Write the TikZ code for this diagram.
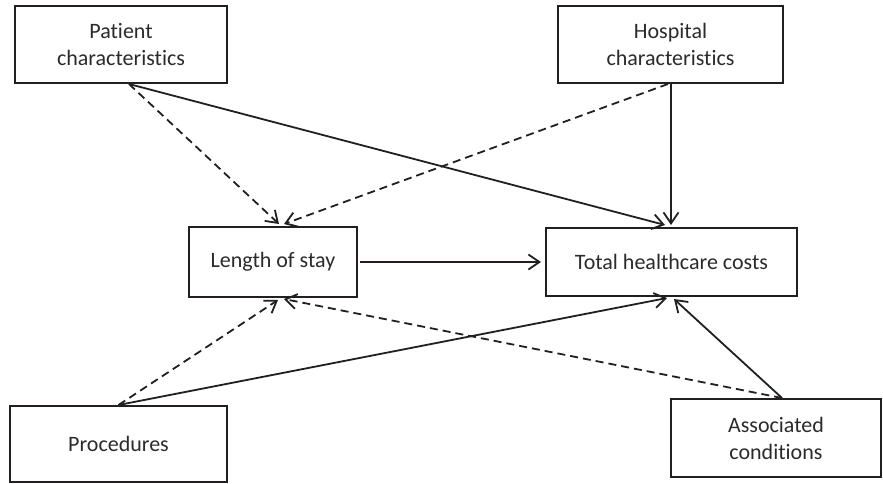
\documentclass[tikz,border=0pt]{standalone}
\usepackage{fontspec}
\setmainfont[Ligatures=NoCommon,RawFeature={-liga;-clig;-dlig}]{Carlito}
\usetikzlibrary{arrows.meta}
\definecolor{linec}{HTML}{231F20}
\definecolor{textc}{HTML}{2B2B2B}
\begin{document}
\begin{tikzpicture}[x=1pt,y=-1pt,
  box/.style={draw=linec, line width=2pt, inner sep=0pt, align=center,
    text=textc, font=\fontsize{22}{27}\selectfont},
  conn/.style={draw=linec, line width=1.8pt,
    -{Straight Barb[length=11pt,width=15pt,line width=1.8pt]}},
  dconn/.style={conn, dash pattern=on 8pt off 5pt}
]
\fill[white] (0,0) rectangle (883,483);
\useasboundingbox (0,0) rectangle (883,483);

\node[box, minimum width=212pt, minimum height=77pt] (pc) at (121,44.5) {Patient\\characteristics};
\node[box, minimum width=225pt, minimum height=77pt] (hc) at (670.5,44.5) {Hospital\\characteristics};
\node[box, minimum width=168pt, minimum height=70pt] (los) at (273,262) {Length of stay};
\node[box, minimum width=251pt, minimum height=68pt] (thc) at (671.5,262) {Total healthcare costs};
\node[box, minimum width=217pt, minimum height=76pt] (proc) at (118.5,444) {Procedures};
\node[box, minimum width=210pt, minimum height=78pt] (ac) at (776,438) {Associated\\conditions};

% from patient characteristics
\draw[dconn] ([xshift=8pt]pc.south) -- ([xshift=6pt,yshift=2pt]los.north);
\draw[conn] ([xshift=8pt]pc.south) -- ([xshift=-6.5pt,yshift=2pt]thc.north);
% from hospital characteristics
\draw[dconn] ([xshift=-2.5pt]hc.south) -- ([xshift=11pt,yshift=2pt]los.north);
\draw[conn] ([xshift=0.5pt]hc.south) -- ([xshift=0.5pt,yshift=2pt]hc.south |- thc.north);
% length of stay -> costs
\draw[conn, shorten <=2pt, shorten >=4pt] (los.east) -- (thc.west);
% from procedures
\draw[dconn] (proc.north) -- ([xshift=5pt,yshift=-2pt]los.south);
\draw[conn] (proc.north) -- ([xshift=-4.5pt,yshift=-1pt]thc.south);
% from associated conditions
\draw[dconn] ([xshift=6pt]ac.north) -- ([xshift=11pt,yshift=-1pt]los.south);
\draw[conn] ([xshift=6pt]ac.north) -- ([xshift=2.5pt,yshift=-2pt]thc.south);
\end{tikzpicture}
\end{document}
